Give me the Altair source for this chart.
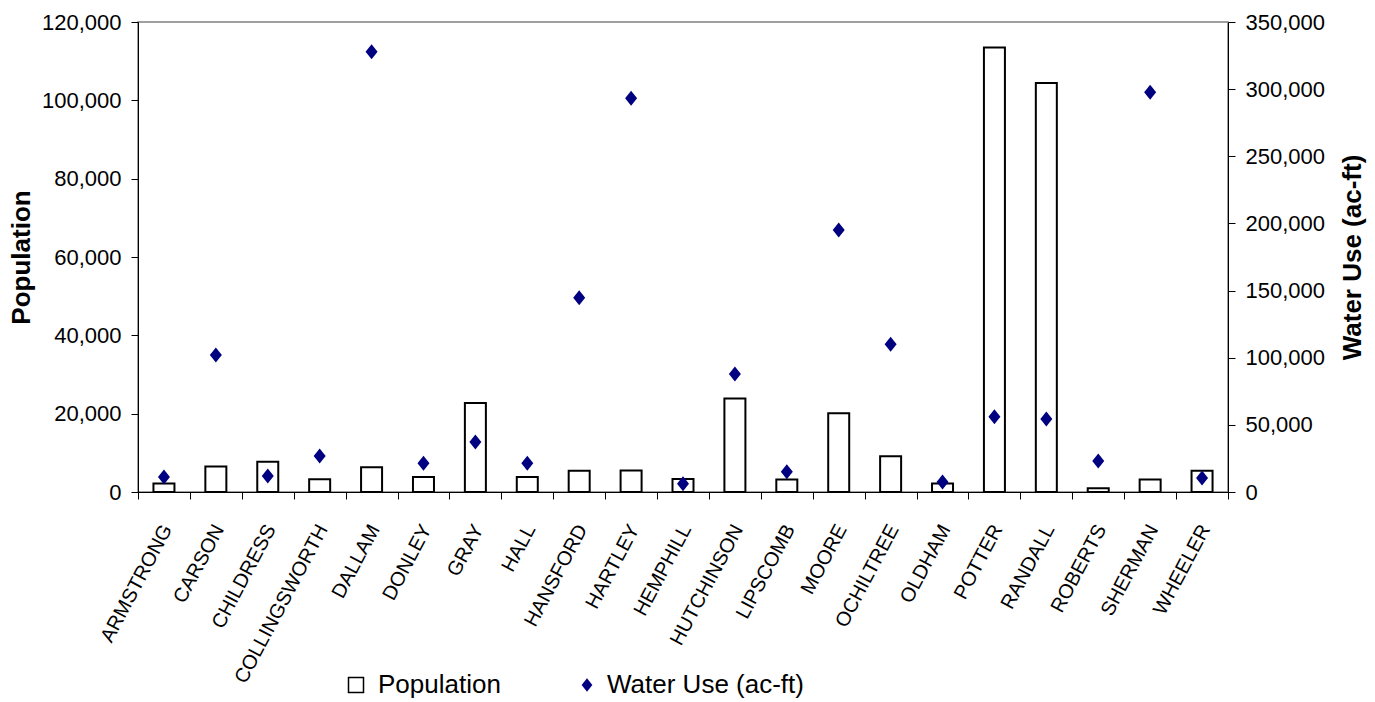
import altair as alt
import pandas as pd

counties = ["ARMSTRONG", "CARSON", "CHILDRESS", "COLLINGSWORTH", "DALLAM", "DONLEY",
            "GRAY", "HALL", "HANSFORD", "HARTLEY", "HEMPHILL", "HUTCHINSON", "LIPSCOMB",
            "MOORE", "OCHILTREE", "OLDHAM", "POTTER", "RANDALL", "ROBERTS", "SHERMAN", "WHEELER"]
population = [2150, 6500, 7700, 3250, 6300, 3850, 22700, 3800, 5400, 5500, 3300,
              23850, 3200, 20100, 9100, 2150, 113500, 104400, 950, 3200, 5400]
water_use = [11200, 102000, 11900, 26800, 327900, 21400, 37200, 21400, 144700, 293200, 6200,
             87900, 15100, 195100, 110000, 7400, 56100, 54400, 23100, 297700, 10400]

FONT = "Liberation Sans"
NAVY = "#000080"
DIAMOND = "M0,-1L0.8,0L0,1L-0.8,0Z"

df = pd.DataFrame({
    "County": counties,
    "Population": population,
    "Water Use": water_use,
    "s1": ["Population"] * len(counties),
    "s2": ["Water Use (ac-ft)"] * len(counties),
})

x = alt.X(
    "County:N", sort=counties, title=None,
    scale=alt.Scale(paddingInner=0, paddingOuter=0),
    axis=alt.Axis(labelAngle=-62, labelAlign="right", labelBaseline="top",
                  labelFontSize=20, labelFont=FONT, labelColor="black",
                  labelPadding=22, labelOffset=-6, tickBand="extent",
                  tickSize=7, tickColor="black", domainColor="black",
                  labelOverlap=False, labelLimit=400),
)

bars = alt.Chart(df).mark_bar(size=21, stroke="black", strokeWidth=2).encode(
    x=x,
    y=alt.Y("Population:Q",
            scale=alt.Scale(domain=[0, 120000], nice=False),
            axis=alt.Axis(title="Population", values=list(range(0, 120001, 20000)),
                          format=",.0f", labelFontSize=22, labelFont=FONT, labelColor="black",
                          tickSize=7, tickColor="black", domainColor="black",
                          labelPadding=10, grid=False,
                          titleFont=FONT, titleFontSize=26, titleFontWeight="bold",
                          titleColor="black", titleAngle=-90, titleX=-117, titleY=235,
                          titleAlign="center", titleBaseline="middle")),
    fill=alt.Fill("s1:N", scale=alt.Scale(domain=["Population"], range=["white"]),
                  legend=alt.Legend(title=None, orient="none", legendX=205, legendY=650,
                                    symbolType="square", symbolSize=225,
                                    symbolStrokeColor="black", symbolStrokeWidth=1.5,
                                    symbolFillColor="white",
                                    labelFontSize=26, labelFont=FONT, labelColor="black",
                                    labelOffset=9, padding=0, labelLimit=400)),
)

points = alt.Chart(df).mark_point(filled=True, color=NAVY, size=225, opacity=1).encode(
    x=x,
    y=alt.Y("Water Use:Q",
            scale=alt.Scale(domain=[0, 350000], nice=False),
            axis=alt.Axis(title="Water Use (ac-ft)", orient="right",
                          values=list(range(0, 350001, 50000)),
                          format=",.0f", labelFontSize=22, labelFont=FONT, labelColor="black",
                          tickSize=7, tickColor="black", domainColor="black",
                          labelPadding=10, grid=False,
                          titleFont=FONT, titleFontSize=26, titleFontWeight="bold",
                          titleColor="black", titleAngle=-90, titleX=124, titleY=235,
                          titleAlign="center", titleBaseline="middle")),
    shape=alt.Shape("s2:N", scale=alt.Scale(domain=["Water Use (ac-ft)"], range=[DIAMOND]),
                    legend=alt.Legend(title=None, orient="none", legendX=436, legendY=650,
                                      symbolSize=180, symbolFillColor=NAVY,
                                      symbolStrokeWidth=0,
                                      labelFontSize=26, labelFont=FONT, labelColor="black",
                                      labelOffset=7, padding=0, labelLimit=400)),
)

chart = alt.layer(bars, points).resolve_scale(y="independent").resolve_legend(
    fill="independent", shape="independent"
).properties(
    width=1090, height=470,
    autosize=alt.AutoSizeParams(type="none"),
    padding={"left": 138, "top": 22, "right": 147, "bottom": 210},
    background="white",
).configure_view(stroke="#808080", strokeWidth=1.5)

chart.save("out.html", embed_options={"renderer": "svg", "actions": False})
